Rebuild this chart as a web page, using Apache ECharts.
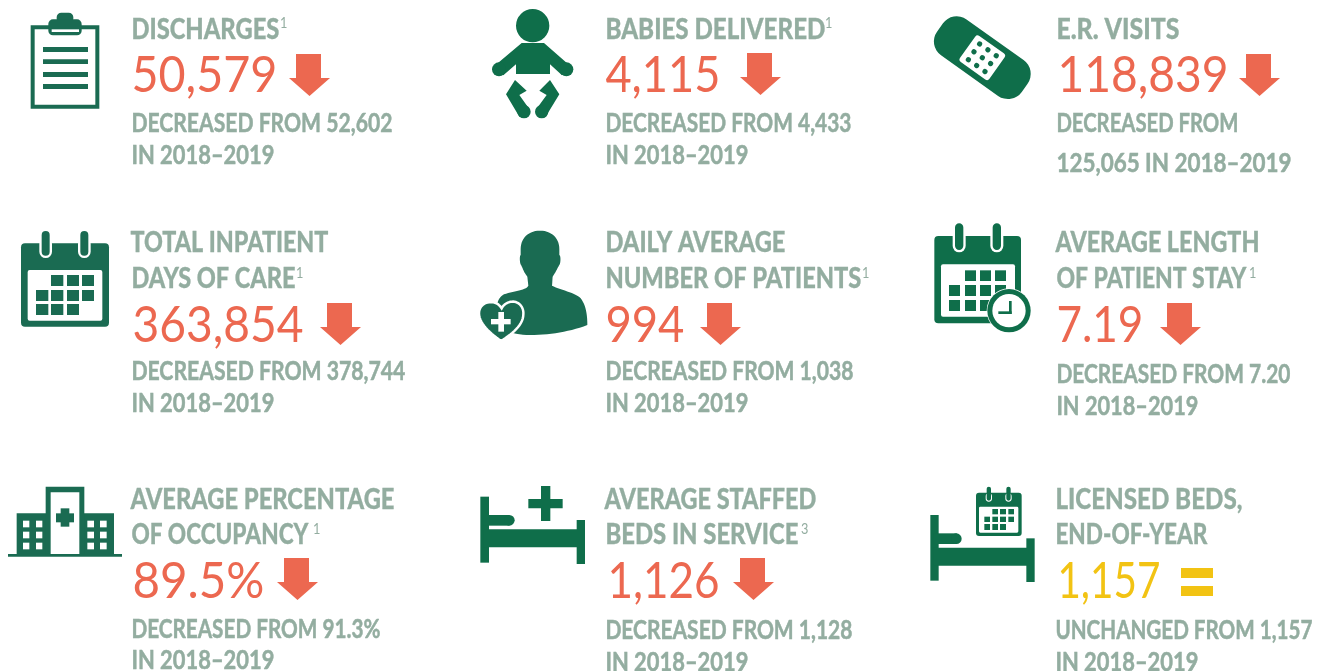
<!DOCTYPE html>
<html><head><meta charset="utf-8">
<style>html,body{margin:0;padding:0;background:#fff}#c{width:1324px;height:671px}</style>
<script src="https://cdn.jsdelivr.net/npm/echarts@6/dist/echarts.min.js"></script>
</head><body><div id="c"></div>
<script>
// ---- data ----
const titles = [
  ['DISCHARGES'], ['BABIES DELIVERED'], ['E.R. VISITS'],
  ['TOTAL INPATIENT','DAYS OF CARE'], ['DAILY AVERAGE','NUMBER OF PATIENTS'], ['AVERAGE LENGTH','OF PATIENT STAY'],
  ['AVERAGE PERCENTAGE','OF OCCUPANCY'], ['AVERAGE STAFFED','BEDS IN SERVICE'], ['LICENSED BEDS,','END-OF-YEAR']
];
const footnotes = ['1','1','','1','1','1','1','3',''];
const values = ['50,579','4,115','118,839','363,854','994','7.19','89.5%','1,126','1,157'];
const trends = ['down','down','down','down','down','down','down','down','same'];
const details = [
  ['DECREASED FROM 52,602','IN 2018–2019'], ['DECREASED FROM 4,433','IN 2018–2019'], ['DECREASED FROM','125,065 IN 2018–2019'],
  ['DECREASED FROM 378,744','IN 2018–2019'], ['DECREASED FROM 1,038','IN 2018–2019'], ['DECREASED FROM 7.20','IN 2018–2019'],
  ['DECREASED FROM 91.3%','IN 2018–2019'], ['DECREASED FROM 1,128','IN 2018–2019'], ['UNCHANGED FROM 1,157','IN 2018–2019']
];

// ---- layout (pixels): [left, capTop, capBottom, right] per line ----
const titleBox = [
  [[132,18,39,279]], [[606,18,39,825]], [[1057,18,39,1179]],
  [[131,232,252,328],[132,268,288,295]], [[606,232,252,785],[606,268,288,861]], [[1056,232,252,1259],[1057,268,288,1246]],
  [[131,489,509,394],[132,524,543,308]], [[605,489,509,816],[606,524,543,798]], [[1056,489,509,1242],[1056,524,543,1207]]
];
const supX = [280,825,0,296,862,1249,313,801,0];
const valueBox = [
  [132,57,93,277],[606,57,93,720],[1058,57,93,1228],
  [133,307,342,303],[606,307,342,684],[1057,307,342,1143],
  [133,564,598,264],[608,564,598,719],[1058,564,598,1160]
];
const arrowPos = [[289,54],[740,53],[1239,54],[320,303],[700,303],[1160,303],[277,558],[733,558],[1181,568]];
const detailBox = [
  [[132,114,132,392],[132,146,164,274]], [[606,114,132,851],[606,146,164,748]], [[1057,114,132,1238],[1057,154,172,1291]],
  [[132,362,380,405],[132,394,412,274]], [[606,362,380,853],[606,394,412,748]], [[1057,365,383,1290],[1057,397,415,1198]],
  [[132,620,638,380],[132,651,669,274]], [[606,621,639,852],[606,653,671,748]], [[1056,621,639,1312],[1056,653,671,1198]]
];

const GRAY='#93ADA0', RED='#EC6850', YEL='#F2C313', G1='#1A6B52', G2='#0F6E4A', W='#fff';
const TITLE_FONT="900 29px Lato", DETAIL_FONT="700 26px Lato", VALUE_FONT="400 50px Lato", SUP_FONT="400 15px Lato";
const TITLE_DY=1, DETAIL_DY=1, VALUE_DY=1;

const ctx=document.createElement('canvas').getContext('2d');
function fit(text,font,w){ctx.font=font;return w/ctx.measureText(text).width;}
function textEl(text,x,top,bot,right,font,fill,dy,sw){
  return {type:'text',x:x-0.6,y:(top+bot)/2+dy,scaleX:fit(text,font,right-x+1),silent:true,
    style:{text:text,font:font,fill:fill,stroke:sw?fill:null,lineWidth:sw||0,x:0,y:0,align:'left',verticalAlign:'middle'}};
}
const els=[];

// all icon geometry below is given in zoomed (3x) units relative to an offset
function R(ox,oy,x1,y1,x2,y2,c,r){els.push({type:'rect',silent:true,shape:{x:ox+x1/3,y:oy+y1/3,width:(x2-x1)/3,height:(y2-y1)/3,r:(r||0)/3},style:{fill:c}});}
function C(ox,oy,x,y,r,c){els.push({type:'circle',silent:true,shape:{cx:ox+x/3,cy:oy+y/3,r:r/3},style:{fill:c}});}
function Pg(ox,oy,pts,c,stroke,lw){els.push({type:'polygon',silent:true,shape:{points:pts.map(p=>[ox+p[0]/3,oy+p[1]/3])},style:{fill:c,stroke:stroke||null,lineWidth:lw||0}});}
// outline made of cubic segments: start point then [c1x,c1y,c2x,c2y,x,y] segments, flattened into a polygon
function curve(start,segs){
  const pts=[start];let p=start;
  segs.forEach(s=>{
    for(let k=1;k<=14;k++){const t=k/14,u=1-t;
      pts.push([u*u*u*p[0]+3*u*u*t*s[0]+3*u*t*t*s[2]+t*t*t*s[4],u*u*u*p[1]+3*u*u*t*s[1]+3*u*t*t*s[3]+t*t*t*s[5]]);}
    p=[s[4],s[5]];
  });
  return pts;
}
function squares(ox,oy,cols,rows,c){
  const on=[[1,2,3],[0,1,2,3],[0,1,2]];
  rows.forEach((r,i)=>on[i].forEach(j=>R(ox,oy,cols[j][0],r[0],cols[j][1],r[1],c)));
}
function ring(ox,oy,x1,x2,y1,y2,c,pad){
  R(ox,oy,x1-pad,y1+20,x2+pad,y2+pad,W,(x2-x1+2*pad)/2);
  R(ox,oy,x1,y1,x2,y2,c,(x2-x1)/2);
}

// clipboard
R(0,0,92,76,298,326,G1);
R(0,0,104,88,286,314,W);
[[141,156],[178,192],[216,231],[252,267]].forEach(a=>R(0,0,129,a[0],264,a[1],G1));
R(0,0,170,38,220,70,G1,14);
R(0,0,145,58,245,106,G1,14);
R(0,0,155,88,237,96,W);

// baby
const bx=470;
C(bx,0,188,77,50,G2);
Pg(bx,0,[[155,129],[222,129],[300,197],[276,226],[240,193],[240,222],[138,222],[138,193],[100,226],[74,197]],G2);
C(bx,0,87,208,21,G2);C(bx,0,289,208,21,G2);
Pg(bx,0,[[135,240],[170,272],[148,285],[180,330],[148,350],[108,283]],G2);
Pg(bx,0,[[240,240],[268,283],[227,350],[197,330],[230,285],[208,272]],G2);
C(bx,0,162,335,20,G2);C(bx,0,215,335,20,G2);

// bandage
els.push({type:'group',silent:true,x:982.3,y:57.7,rotation:-35.4*Math.PI/180,children:[
  {type:'rect',shape:{x:-52,y:-22,width:104,height:44,r:17},style:{fill:G2}},
  {type:'rect',shape:{x:-18,y:-16,width:36,height:32,r:3},style:{fill:W}}
].concat([-1,0,1].flatMap(a=>[-1,0,1].map(b=>({type:'circle',shape:{cx:a*10.2,cy:b*9.7,r:2.6},style:{fill:G2}}))))});

// calendar A
const cy=215;
R(0,cy,63,85,327,335,G1,12);
R(0,cy,83,165,307,317,W,6);
ring(0,cy,125,149,48,122,G1,7);
ring(0,cy,241,265,48,122,G1,7);
squares(0,cy,[[108,145],[153,190],[201,237],[246,282]],[[180,213],[225,258],[267,300]],G1);

// person with heart
const px=470;
Pg(px,cy,curve([210,47],[[175,47,152,70,152,102],[152,108,152,114,152,120],[148,122,149,145,153,150],[158,158,160,170,172,185],[173,194,174,203,175,212],[170,226,130,228,102,238],[80,248,78,280,78,310],[80,345,130,360,180,360],[240,360,300,350,352,330],[352,300,348,270,332,250],[315,232,270,225,246,212],[247,203,247,194,248,185],[258,170,263,158,268,150],[272,145,273,122,268,120],[268,114,268,108,268,102],[268,70,245,47,210,47]]),G1);
Pg(px,cy,curve([93,378],[[60,355,27,325,27,295],[27,270,50,258,70,262],[82,264,90,272,95,280],[100,270,110,262,125,260],[145,258,162,275,160,298],[160,330,125,358,93,378]]),G1,W,2.5);
R(px,cy,63,312,122,328,W);
R(px,cy,85,291,102,350,W);

// calendar B with clock
const kx=910;
R(kx,cy,73,63,333,325,G2,12);
R(kx,cy,93,148,315,305,W,6);
ring(kx,cy,135,160,25,105,G2,7);
ring(kx,cy,248,273,25,105,G2,7);
squares(kx,cy,[[117,150],[165,198],[210,243],[255,288]],[[166,198],[210,243],[255,288]],G2);
C(kx,cy,297,287,67,W);
C(kx,cy,297,287,65,G2);
C(kx,cy,297,287,50,W);
R(kx,cy,297,258,305,297,G2);
R(kx,cy,265,289,305,297,G2);

// hospital
const hy=470;
R(0,hy,24,252,366,260,G1);
R(0,hy,50,130,140,252,G1);
R(0,hy,250,130,342,252,G1);
R(0,hy,137,50,253,254,G1);
R(0,hy,152,67,238,252,W);
R(0,hy,168,130,222,157,G1);
R(0,hy,182,115,208,170,G1);
[[69,88],[108,127],[262,282],[300,320]].forEach(a=>[[152,172],[185,205],[218,238]].forEach(b=>R(0,hy,a[0],b[0],a[1],b[1],W)));

// bed with plus
const dx=470;
R(dx,hy,31,80,57,278,G2);
R(dx,hy,320,150,345,282,G2);
R(dx,hy,40,178,330,232,G2);
R(dx,hy,40,135,118,167,G2);
C(dx,hy,118,151,16,G2);
R(dx,hy,175,87,278,115,G2);
R(dx,hy,213,48,241,153,G2);

// bed with calendar
R(kx,hy,61,135,86,332,G2);
R(kx,hy,349,205,374,336,G2);
R(kx,hy,70,233,360,287,G2);
R(kx,hy,70,190,140,222,G2);
C(kx,hy,139,206,16,G2);
R(kx,hy,198,68,335,198,G2,9);
R(kx,hy,207,110,325,188,W,4);
ring(kx,hy,230,243,50,92,G2,3);
ring(kx,hy,289,302,50,92,G2,3);
squares(kx,hy,[[223,240],[247,264],[270,288],[295,312]],[[117,133],[140,156],[162,180]],G2);

// texts + trend marks
titles.forEach((lines,i)=>{
  lines.forEach((t,j)=>{const b=titleBox[i][j];els.push(textEl(t,b[0],b[1],b[2],b[3],TITLE_FONT,GRAY,TITLE_DY,0.3));});
  if(footnotes[i]){
    const b=titleBox[i][lines.length-1];
    els.push({type:'text',silent:true,x:supX[i],y:b[1]-2,scaleX:0.85,style:{text:footnotes[i],font:SUP_FONT,fill:GRAY,align:'left',verticalAlign:'top'}});
  }
  const v=valueBox[i];
  els.push(textEl(values[i],v[0],v[1],v[2],v[3],VALUE_FONT,trends[i]==='same'?YEL:RED,VALUE_DY));
  const a=arrowPos[i];
  if(trends[i]==='down'){
    els.push({type:'polygon',silent:true,shape:{points:[[a[0]+7,a[1]],[a[0]+32,a[1]],[a[0]+32,a[1]+24],[a[0]+41,a[1]+24],[a[0]+20.5,a[1]+42],[a[0],a[1]+24],[a[0]+7,a[1]+24]]},style:{fill:RED}});
  }else{
    els.push({type:'rect',silent:true,shape:{x:a[0],y:a[1],width:32,height:10},style:{fill:YEL}});
    els.push({type:'rect',silent:true,shape:{x:a[0],y:a[1]+18,width:32,height:10},style:{fill:YEL}});
  }
  details[i].forEach((t,j)=>{const b=detailBox[i][j];els.push(textEl(t,b[0],b[1],b[2],b[3],DETAIL_FONT,GRAY,DETAIL_DY,0.5));});
});

const chart=echarts.init(document.getElementById('c'),null,{renderer:'canvas',width:1324,height:671});
chart.setOption({animation:false,backgroundColor:'#fff',graphic:{elements:els}});
</script></body></html>
